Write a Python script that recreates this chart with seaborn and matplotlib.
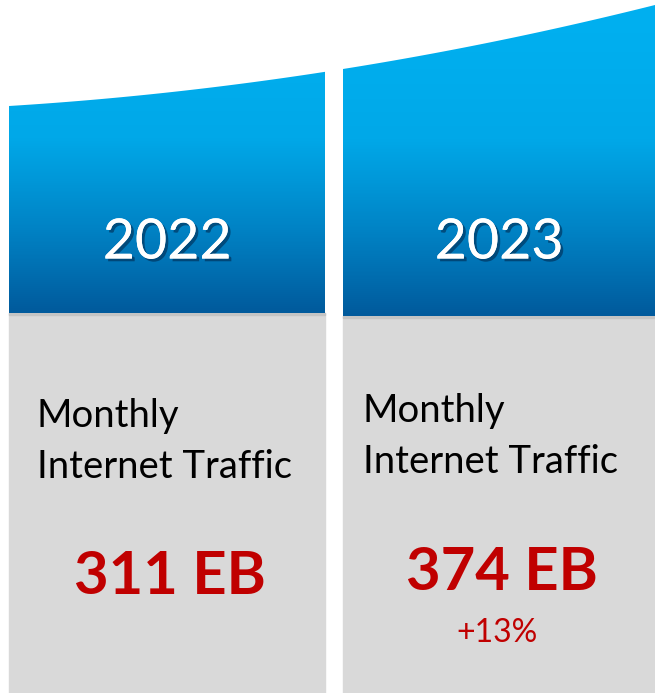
import matplotlib
matplotlib.use('Agg')
import matplotlib.pyplot as plt
import matplotlib.patheffects as pe
from matplotlib.colors import LinearSegmentedColormap
from matplotlib.patches import Rectangle, Polygon
import numpy as np
import seaborn as sns

# data
years = ['2022', '2023']
traffic_eb = [311, 374]
growth = ['', '+13%']
label_lines = ['Monthly', 'Internet Traffic']

sns.set_style('white')
plt.rcParams['font.family'] = ['Lato', 'DejaVu Sans']

fig = plt.figure(figsize=(6.55, 6.93), dpi=100)
ax = fig.add_axes([0, 0, 1, 1])
ax.set_xlim(0, 655)
ax.set_ylim(693, 0)
ax.axis('off')

# panel layout (pixels)
lefts = [9, 343]
rights = [325, 655]
blue_bottom = [313, 316]
text_x = [37, 363]
text_y = [427, 422]
value_y = [594, 590]


def top_edge(x):
    return 106.55 - 0.05937 * x - 1.4607e-4 * x ** 2


blues = LinearSegmentedColormap.from_list(
    'blues', ['#00B0F0', '#00A8E8', '#0082C4', '#005A9C'])

for i, year in enumerate(years):
    x0, x1, yb = lefts[i], rights[i], blue_bottom[i]
    cx = (x0 + x1) / 2

    # gray body
    ax.add_patch(Rectangle((x0, yb), x1 - x0, 693 - yb, color='#D9D9D9', zorder=1))
    # soft shadow under blue head
    ax.add_patch(Rectangle((x0, yb), x1 - x0, 2, color='#C4C4C4', zorder=2))

    # blue gradient head clipped to curved top
    xs = np.linspace(x0, x1, 60)
    top = top_edge(xs)
    verts = list(zip(xs, top)) + [(x1, yb), (x0, yb)]
    poly = Polygon(verts, closed=True, facecolor='none', edgecolor='none')
    ax.add_patch(poly)
    grad = np.linspace(0, 1, 256).reshape(-1, 1) ** 1.3
    im = ax.imshow(grad, cmap=blues, aspect='auto',
                   extent=(x0, x1, yb, 5), zorder=3, interpolation='bilinear')
    im.set_clip_path(poly)

    ax.text(cx, 243, year, color='white', fontsize=40, ha='center', va='center',
            zorder=5,
            path_effects=[pe.withSimplePatchShadow(offset=(2, -2), shadow_rgbFace='#002a50',
                                                   alpha=0.6), pe.Normal()])

    for j, line in enumerate(label_lines):
        ax.text(text_x[i], text_y[i] + 51 * j, line, color='black', fontsize=27.5,
                ha='left', va='baseline', zorder=5)

    ax.text(cx + 3, value_y[i], f'{traffic_eb[i]} EB', color='#C00000',
            fontsize=43, fontweight='bold', ha='center', va='baseline', zorder=5)
    if growth[i]:
        ax.text(cx - 2, value_y[i] + 52, growth[i], color='#C00000',
                fontsize=23, ha='center', va='baseline', zorder=5)

fig.savefig('out.png', dpi=100)
